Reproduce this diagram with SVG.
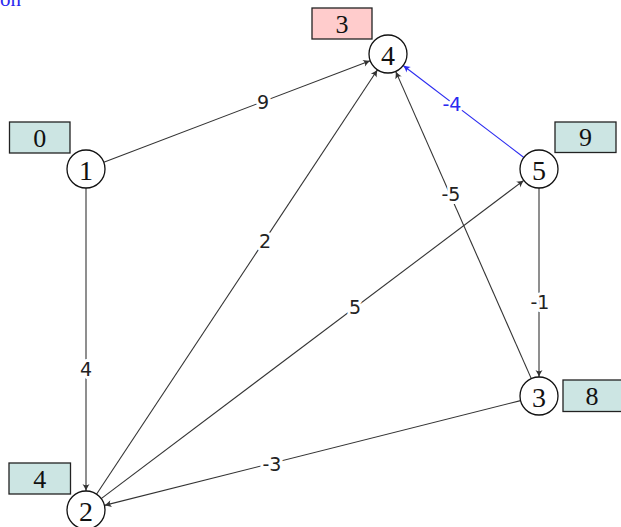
<svg xmlns="http://www.w3.org/2000/svg" width="621" height="527" viewBox="0 0 621 527">
<style>
.node circle{fill:#fff;stroke:#111;stroke-width:1.3}
.node text{font-family:"Liberation Serif","DejaVu Serif",serif;font-size:28px;fill:#111;text-anchor:middle;dominant-baseline:central}
.box rect{stroke:#222;stroke-width:1.3}
.box text{font-family:"Liberation Serif","DejaVu Serif",serif;font-size:26px;fill:#111;text-anchor:middle;dominant-baseline:central}
.teal{fill:#cce5e3}
.pink{fill:#ffcccc}
.edge{fill:none;stroke:#333;stroke-width:1.1;marker-end:url(#arr)}
.edge.blue{stroke:#2a2af0;marker-end:url(#arrb)}
.lbl{font-family:"DejaVu Sans","Liberation Sans",sans-serif;font-size:19px;fill:#222;text-anchor:middle;dominant-baseline:central;stroke:#fff;stroke-width:6;paint-order:stroke;stroke-linejoin:round}
.lbl.blue{fill:#2a2af0}
</style>
<defs>
<marker id="arr" markerUnits="userSpaceOnUse" markerWidth="12" markerHeight="12" refX="0" refY="0" viewBox="-8 -6 10 12" orient="auto">
<path d="M-7,-3.5 Q-3,-1 0,0 Q-3,1 -7,3.5 Q-4.5,0 -7,-3.5 Z" fill="#333"/>
</marker>
<marker id="arrb" markerUnits="userSpaceOnUse" markerWidth="12" markerHeight="12" refX="0" refY="0" viewBox="-8 -6 10 12" orient="auto">
<path d="M-7,-3.5 Q-3,-1 0,0 Q-3,1 -7,3.5 Q-4.5,0 -7,-3.5 Z" fill="#2a2af0"/>
</marker>
</defs>
<text x="21" y="6" font-family="Liberation Serif, serif" font-size="21" fill="#2a2af0" text-anchor="end">on</text>
<g id="connectors">
<line class="edge" x1="103.8" y1="162.2" x2="370.2" y2="60.8"/>
<line class="edge" x1="86" y1="188" x2="86" y2="491"/>
<line class="edge" x1="96.5" y1="494.2" x2="377.5" y2="69.8"/>
<line class="edge" x1="101.2" y1="498.6" x2="523.8" y2="180.4"/>
<line class="edge" x1="531.3" y1="378.6" x2="395.7" y2="71.4"/>
<line class="edge" x1="520.6" y1="400.6" x2="104.4" y2="505.4"/>
<line class="edge blue" x1="523.9" y1="157.5" x2="403.1" y2="65.5"/>
<line class="edge" x1="539" y1="188" x2="539" y2="377"/>
<text class="lbl" x="263" y="102">9</text>
<text class="lbl" x="86" y="369">4</text>
<text class="lbl" x="265" y="241">2</text>
<text class="lbl" x="355" y="307">5</text>
<text class="lbl" x="451" y="194">-5</text>
<text class="lbl" x="272" y="464">-3</text>
<text class="lbl blue" x="452" y="104">-4</text>
<text class="lbl" x="540" y="302">-1</text>
</g>
<g id="n1" class="node"><g class="box"><rect class="teal" x="9.5" y="122" width="60.5" height="31"/><text x="39.8" y="138">0</text></g><circle cx="86" cy="169" r="19"/><text x="86" y="170">1</text></g>
<g id="n2" class="node"><g class="box"><rect class="teal" x="9" y="463" width="61.5" height="31"/><text x="39.8" y="479">4</text></g><circle cx="86" cy="510" r="19"/><text x="86" y="511">2</text></g>
<g id="n3" class="node"><g class="box"><rect class="teal" x="563" y="380" width="62" height="31.5"/><text x="592" y="396">8</text></g><circle cx="539" cy="396" r="19"/><text x="539" y="397">3</text></g>
<g id="n4" class="node"><g class="box"><rect class="pink" x="312" y="8" width="60" height="31"/><text x="342" y="24">3</text></g><circle cx="388" cy="54" r="19"/><text x="388" y="55">4</text></g>
<g id="n5" class="node"><g class="box"><rect class="teal" x="555" y="122" width="61" height="30.5"/><text x="585.5" y="137.5">9</text></g><circle cx="539" cy="169" r="19"/><text x="539" y="170">5</text></g>
</svg>
